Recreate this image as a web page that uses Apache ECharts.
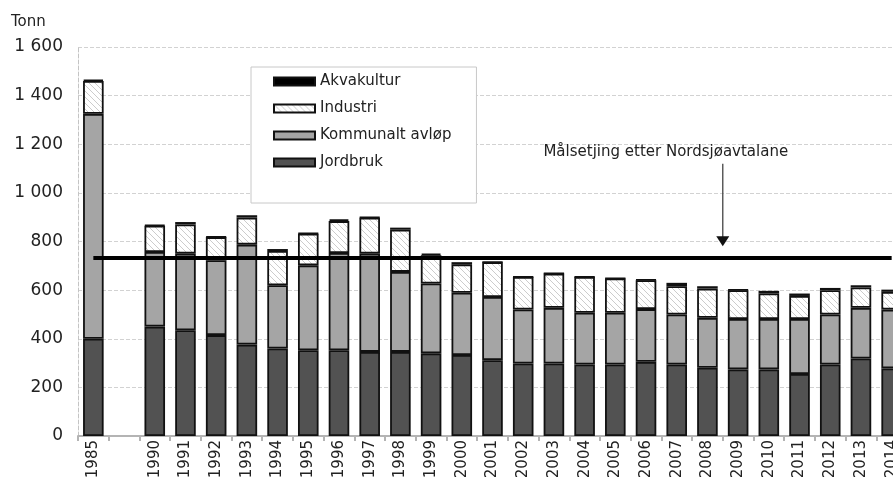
<!DOCTYPE html>
<html><head><meta charset="utf-8">
<script src="https://cdn.jsdelivr.net/npm/echarts@6/dist/echarts.min.js"></script>
<style>html,body{margin:0;padding:0;background:#fff}#c{width:893px;height:477px}</style>
</head><body><div id="c"></div>
<script>
const years = ['1985','','1990','1991','1992','1993','1994','1995','1996','1997','1998','1999','2000','2001','2002','2003','2004','2005','2006','2007','2008','2009','2010','2011','2012','2013','2014'];
const jordbruk = [400,null,450,435,415,376,360,353,353,346,346,340,333,312,298,298,294,294,305,294,281,274,274,255,294,319,278];
const kommunalt = [925,null,307,315,308,411,260,349,400,404,329,287,256,260,222,229,213,213,217,206,205,207,207,226,206,208,242];
const industri = [135,null,108,120,95,111,141,130,131,148,174,116,117,143,134,141,147,141,119,116,120,119,105,95,100,84,73];
const akvakultur = [5,null,3,10,2,10,8,2,7,2,8,7,9,1,1,1,1,1,2,14,10,2,11,10,9,9,9];
const yTicks = [0,200,400,600,800,1000,1200,1400,1600];
const target = 735;
const targetLabel = 'Målsetjing etter Nordsjøavtalane';
const arrowFrom = ['2008','2009'];
const arrowTop = 1120, arrowTip = 780, labelValue = 1166;

const FONT = 'DejaVu Sans';
const TXT = '#222';

const hatch = document.createElement('canvas');
hatch.width = 6; hatch.height = 6;
(function(){const g = hatch.getContext('2d');g.fillStyle='#fff';g.fillRect(0,0,6,6);g.strokeStyle='#cccccc';g.lineWidth=1;
g.beginPath();g.moveTo(0,0);g.lineTo(6,6);g.moveTo(-3,3);g.lineTo(3,9);g.moveTo(3,-3);g.lineTo(9,3);g.stroke();})();

const chart = echarts.init(document.getElementById('c'), null, {renderer:'canvas'});
const border = {borderColor:'#111', borderWidth:1.8};
function bar(name, data, color){
  return {name, type:'bar', stack:'t', data, barWidth:'67%', itemStyle:Object.assign({color}, border), emphasis:{disabled:true}};
}
const sJ = bar('Jordbruk', jordbruk, '#525252');
sJ.markLine = {silent:true, symbol:'none', label:{show:false}, lineStyle:{color:'#000', width:4, type:'solid'},
  data:[[{coord:[years[0], target]},{coord:[years[years.length-1], target]}]]};
const option = {
  animation:false,
  textStyle:{fontFamily:FONT},
  title:{text:'Tonn', left:11, top:15, padding:0, textStyle:{fontFamily:FONT, fontSize:15, fontWeight:'normal', color:TXT}},
  grid:{left:78, top:47, width:829, height:389, containLabel:false, outerBoundsMode:'none'},
  legend:{orient:'vertical', left:251, top:67, padding:[7,25,33,22], itemGap:12, itemWidth:41, itemHeight:8,
    icon:'rect',
    backgroundColor:'#fff', borderColor:'#c8c8c8', borderWidth:1,
    data:['Akvakultur','Industri','Kommunalt avløp','Jordbruk'],
    textStyle:{fontFamily:FONT, fontSize:15, color:TXT}},
  xAxis:{type:'category', data:years,
    axisLine:{lineStyle:{color:'#b4b4b4', width:2}},
    axisTick:{show:true, length:5, lineStyle:{color:'#b4b4b4', width:2}},
    axisLabel:{interval:0, rotate:90, margin:4, fontFamily:FONT, fontSize:15, color:TXT}},
  yAxis:{type:'value', min:yTicks[0], max:yTicks[yTicks.length-1], interval:yTicks[1]-yTicks[0],
    axisLine:{show:true, lineStyle:{color:'#c4c4c4', type:'dashed'}},
    axisTick:{show:false},
    splitLine:{lineStyle:{color:'#d2d2d2', type:'dashed'}},
    axisLabel:{margin:15, fontFamily:FONT, fontSize:17, color:TXT,
      formatter:v=>String(v).replace(/\B(?=(\d{3})+(?!\d))/g,' ')}},
  series:[
    sJ,
    bar('Kommunalt avløp', kommunalt, '#a5a5a5'),
    bar('Industri', industri, {image:hatch, repeat:'repeat'}),
    bar('Akvakultur', akvakultur, '#000')
  ]
};
chart.setOption(option);
const xa = chart.convertToPixel({xAxisIndex:0}, arrowFrom[0]);
const xb = chart.convertToPixel({xAxisIndex:0}, arrowFrom[1]);
const ax = (xa + xb) / 2;
const yTop = chart.convertToPixel({yAxisIndex:0}, arrowTop);
const yTip = chart.convertToPixel({yAxisIndex:0}, arrowTip);
const yLab = chart.convertToPixel({yAxisIndex:0}, labelValue);
chart.setOption({graphic:[
  {type:'line', shape:{x1:ax, y1:yTop, x2:ax, y2:yTip-9}, style:{stroke:'#444', lineWidth:1.3}, z:100},
  {type:'polygon', shape:{points:[[ax-6.5, yTip-10],[ax+6.5, yTip-10],[ax, yTip]]}, style:{fill:'#111'}, z:100},
  {type:'text', x:ax-57, y:yLab, style:{text:targetLabel, font:'15px "DejaVu Sans"', fill:TXT, align:'center', verticalAlign:'middle'}, z:100}
]});
</script>
</body></html>
